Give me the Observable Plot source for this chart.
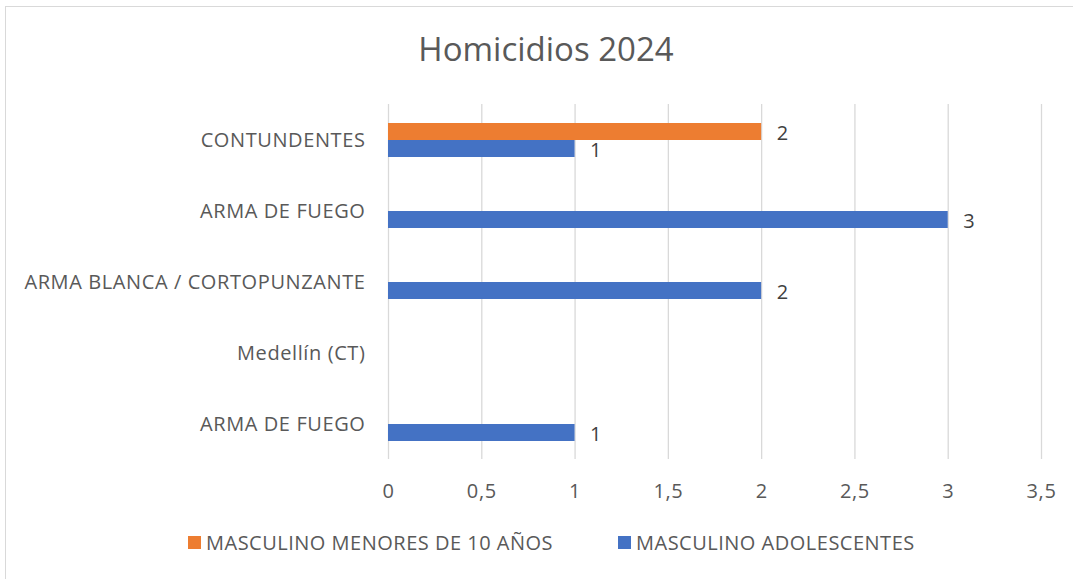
<!DOCTYPE html>
<html>
<head>
<meta charset="utf-8">
<script src="https://cdn.jsdelivr.net/npm/d3@7"></script>
<script src="https://cdn.jsdelivr.net/npm/@observablehq/plot@0.6"></script>
<style>
  html, body { margin: 0; padding: 0; background: #fff; overflow: hidden; }
  #frame { position: absolute; left: 5px; top: 6px; width: 1200px; height: 700px; border: 1.5px solid #d9d9d9; box-sizing: border-box; }
  #title { position: absolute; left: 0; top: 26px; width: 1092px; text-align: center; font-family: "Open Sans", sans-serif; font-size: 33px; color: #595959; }
  #chart { position: absolute; left: 0; top: 80px; }
  #legend { position: absolute; top: 529px; left: 0; width: 1073px; font-family: "Open Sans", sans-serif; font-size: 20px; letter-spacing: 0.5px; color: #595959; }
  .item { position: absolute; display: flex; align-items: center; white-space: nowrap; }
  .sw { width: 13px; height: 13px; margin-right: 5px; display: inline-block; }
  svg text { letter-spacing: 0.6px; }
</style>
</head>
<body>
<div id="frame"></div>
<div id="title">Homicidios 2024</div>
<div id="chart"></div>
<div id="legend"></div>
<script>
const categories = ["CONTUNDENTES", "ARMA DE FUEGO", "ARMA BLANCA / CORTOPUNZANTE", "Medellín (CT)", "ARMA DE FUEGO"];
const seriesNames = ["MASCULINO MENORES DE 10 AÑOS", "MASCULINO ADOLESCENTES"];
const menores = [2, null, null, null, null];
const adolescentes = [1, 3, 2, null, 1];
const xTicks = [0, 0.5, 1, 1.5, 2, 2.5, 3, 3.5];
const colors = ["#ED7D31", "#4472C4"];

const keys = categories.map((c, i) => String(i));
const rows = [];
categories.forEach((c, i) => {
  if (menores[i] != null) rows.push({key: String(i), series: seriesNames[0], value: menores[i]});
  if (adolescentes[i] != null) rows.push({key: String(i), series: seriesNames[1], value: adolescentes[i]});
});
const gridRows = keys.flatMap(k => xTicks.map(t => ({key: k, t})));

const fmt = v => String(v).replace(".", ",");
const FONT = "'Open Sans', sans-serif";

const chart = Plot.plot({
  width: 1073,
  height: 425,
  marginTop: 23,
  marginBottom: 45,
  marginLeft: 388,
  marginRight: 32,
  style: {fontFamily: FONT, fontSize: "20px", color: "#595959", background: "transparent"},
  x: {domain: [0, 3.5], label: null},
  y: {domain: seriesNames, axis: null, paddingInner: 0, paddingOuter: 0.98},
  fy: {domain: keys, label: null, padding: 0, axis: null},
  color: {domain: seriesNames, range: colors},
  marks: [
    Plot.ruleX(gridRows, {x: "t", fy: "key", stroke: "#d9d9d9", strokeWidth: 1.3}),
    Plot.barX(rows, {x: "value", y: "series", fy: "key", fill: "series"}),
    Plot.text(rows, {x: "value", y: "series", fy: "key", text: d => fmt(d.value), textAnchor: "start", dx: 15, dy: 2, fill: "#404040", fontSize: 20}),
    Plot.axisX({ticks: xTicks, tickFormat: fmt, tickSize: 0, tickPadding: 24, facetAnchor: "bottom", fill: "#595959", fontSize: 20, label: null}),
    Plot.axisFy({anchor: "left", tickFormat: i => categories[+i], tickSize: 0, tickPadding: 23, dy: 1, fill: "#595959", fontSize: 20, label: null})
  ]
});
document.getElementById("chart").appendChild(chart);

const legend = document.getElementById("legend");
const lefts = [188, 618];
seriesNames.forEach((s, i) => {
  const el = document.createElement("div");
  el.className = "item";
  el.style.left = lefts[i] + "px";
  el.innerHTML = `<span class="sw" style="background:${colors[i]}"></span><span>${s}</span>`;
  legend.appendChild(el);
});
</script>
</body>
</html>
